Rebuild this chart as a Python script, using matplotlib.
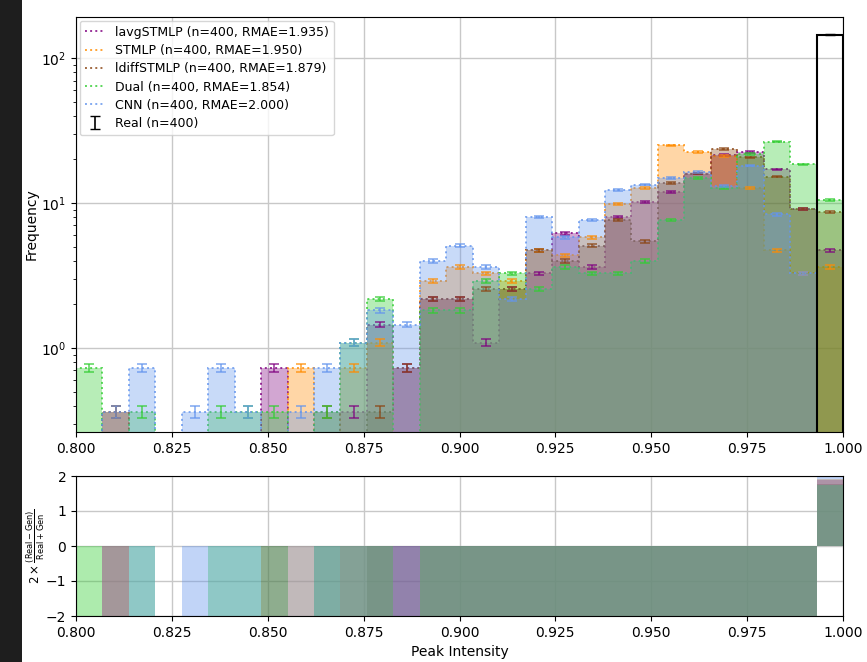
import numpy as np
import matplotlib
matplotlib.use("Agg")
import matplotlib.pyplot as plt
from matplotlib.patches import Rectangle

# Histogram binning of peak intensity
x_min, x_max, n_bins = 0.8, 1.0, 29
n_samples = 400

# Counts per bin for each model (29 bins between 0.8 and 1.0)
lavg_counts = [0, 0, 0, 0, 0, 0, 0, 2, 0, 0, 1, 4, 2, 6, 6, 3, 7, 9, 17, 10,
               22, 28, 33, 44, 59, 62, 47, 25, 13]
stmlp_counts = [0, 1, 0, 0, 0, 0, 0, 0, 2, 0, 2, 3, 0, 8, 10, 9, 8, 13, 12, 16,
                27, 35, 69, 62, 58, 35, 13, 9, 10]
ldiff_counts = [0, 1, 0, 0, 0, 0, 0, 0, 0, 1, 0, 1, 2, 6, 6, 7, 7, 13, 11, 14,
                21, 15, 38, 44, 65, 57, 42, 25, 24]
dual_counts = [2, 0, 1, 0, 0, 1, 1, 1, 0, 1, 3, 6, 0, 5, 5, 8, 9, 7, 10, 9,
               9, 11, 21, 41, 35, 60, 73, 51, 29]
cnn_counts = [0, 1, 2, 0, 1, 2, 1, 0, 1, 2, 3, 5, 4, 11, 14, 10, 6, 22, 16, 21,
              34, 37, 41, 45, 36, 50, 23, 9, 0]
real_counts = [0] * 28 + [400]

model_names = ["lavgSTMLP", "STMLP", "ldiffSTMLP", "Dual", "CNN"]
model_rmae = [1.935, 1.950, 1.879, 1.854, 2.000]
model_colors = ["purple", "darkorange", "saddlebrown", "limegreen", "cornflowerblue"]
model_counts = [lavg_counts, stmlp_counts, ldiff_counts, dual_counts, cnn_counts]
x_ticks = [0.8, 0.825, 0.85, 0.875, 0.9, 0.925, 0.95, 0.975, 1.0]

edges = np.linspace(x_min, x_max, n_bins + 1)
width = edges[1] - edges[0]
centers = 0.5 * (edges[:-1] + edges[1:])
unit = 1.0 / (n_samples * width)
err_scale = 0.09


def density(counts):
    c = np.asarray(counts, dtype=float)
    return c * unit, np.sqrt(c) * unit * err_scale


fig = plt.figure(figsize=(8.67, 6.62), dpi=100)
fig.patches.append(Rectangle((0, 0), 22 / 867, 1, transform=fig.transFigure,
                             facecolor="#1e1e1e", edgecolor="none", zorder=-10))
ax = fig.add_axes([76 / 867, 1 - 432 / 662, 767 / 867, 415 / 662])
ax2 = fig.add_axes([76 / 867, 1 - 616 / 662, 767 / 867, 140 / 662])

real_h, real_e = density(real_counts)

for name, rmae, color, counts in zip(model_names, model_rmae, model_colors, model_counts):
    h, e = density(counts)
    ax.stairs(h, edges, fill=True, baseline=0, color=color, alpha=0.35, lw=0)
    ax.stairs(h, edges, fill=False, baseline=0, color=color, alpha=0.8, lw=1.4,
              ls=":", label=f"{name} (n={n_samples}, RMAE={rmae:.3f})")
    m = h > 0
    ax.errorbar(centers[m], h[m], yerr=e[m], fmt="none", ecolor=color,
                alpha=0.75, capsize=3.5, elinewidth=1.2, capthick=1.2)

    # relative difference against the real distribution
    c = np.asarray(counts, dtype=float)
    r = np.asarray(real_counts, dtype=float)
    with np.errstate(invalid="ignore", divide="ignore"):
        ratio = 2 * (r - c) / (r + c)
    ok = np.isfinite(ratio)
    ax2.bar(centers[ok], ratio[ok], width=width, color=color, alpha=0.4,
            align="center", lw=0)

ax.stairs(real_h, edges, fill=False, baseline=0, color="black", lw=1.5)
m = real_h > 0
ax.errorbar(centers[m], real_h[m], yerr=real_e[m], fmt="none", ecolor="black",
            capsize=3.5, elinewidth=1.2, label=f"Real (n={n_samples})")

ax.set_yscale("log")
ax.set_xlim(x_min, x_max)
ax.set_ylim(0.263, 192)
ax.set_ylabel("Frequency", labelpad=2)
ax.grid(True, which="major", color="#c8c8c8", lw=1)
ax.set_axisbelow(True)
ax.set_xticks(x_ticks)
ax.xaxis.set_major_formatter(matplotlib.ticker.FormatStrFormatter("%.3f"))
ax.legend(loc="upper left", fontsize=9, framealpha=0.8, handlelength=1.6,
          labelspacing=0.42, borderaxespad=0.3)

ax2.set_xlim(x_min, x_max)
ax2.set_ylim(-2, 2)
ax2.set_yticks([-2, -1, 0, 1, 2])
ax2.set_xticks(x_ticks)
ax2.xaxis.set_major_formatter(matplotlib.ticker.FormatStrFormatter("%.3f"))
ax2.grid(True, color="#c8c8c8", lw=1)
ax2.set_axisbelow(True)
ax2.set_xlabel("Peak Intensity")
ax2.set_ylabel(r"$2\times\frac{(\mathrm{Real}-\mathrm{Gen})}{\mathrm{Real}+\mathrm{Gen}}$",
               fontsize=8.5, labelpad=-1)

fig.savefig("out.png", dpi=100)
